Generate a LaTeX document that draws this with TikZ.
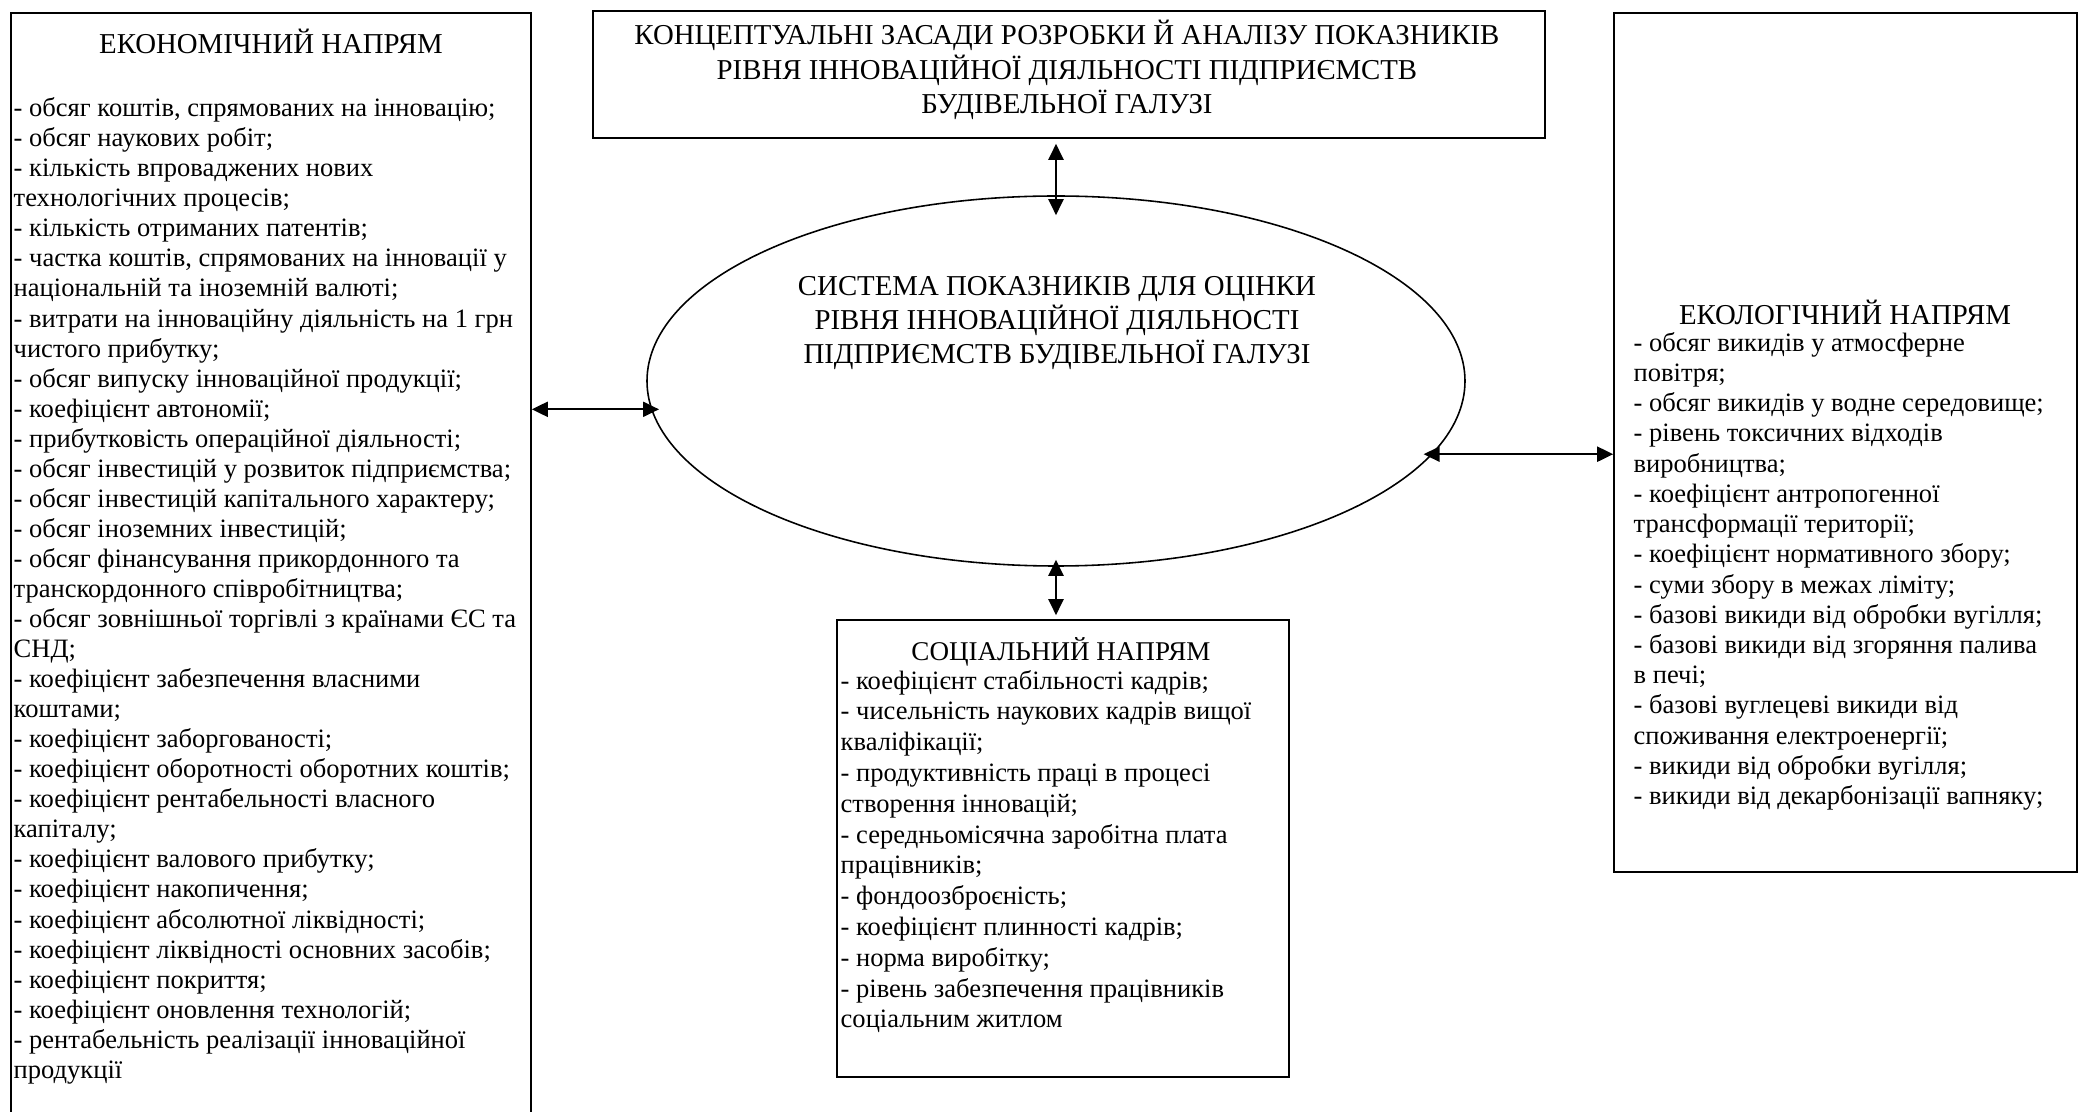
\documentclass[tikz,border=0pt]{standalone}
\usepackage{fontspec}
\setmainfont{Liberation Serif}
\usetikzlibrary{arrows.meta,shapes.geometric}

\begin{document}
\begin{tikzpicture}[
        box/.style = {draw = black, line width = 0.45pt, inner sep = 0pt},
        lst/.style = {align = left, inner sep = 0pt, anchor = north west, font = {\fontsize{7.55}{8.55}\selectfont}},
        head/.style = {inner sep = 0pt, font = {\fontsize{8.2}{9.8}\selectfont}},
        arr/.style = {{Triangle[width = 0.15cm, length = 0.16cm]}-{Triangle[width = 0.15cm, length = 0.16cm]}, line width = 0.6pt}
    ]
        \fill[white] (0, 0) rectangle (20.8, -11.12);
        \useasboundingbox (0, 0) rectangle (20.8, -11.12);

        \node[box, minimum width = 5.2cm, minimum height = 11.17cm] (econ) at (2.71, -5.715) {};
        \node[box, minimum width = 9.52cm, minimum height = 1.27cm] (concept) at (10.69, -0.745) {};
        \node[box, ellipse, minimum width = 8.18cm, minimum height = 3.7cm] (sys) at (10.56, -3.81) {};
        \node[box, minimum width = 4.52cm, minimum height = 4.57cm] (soc) at (10.63, -8.485) {};
        \node[box, minimum width = 4.63cm, minimum height = 8.59cm] (eco) at (18.455, -4.425) {};

        \node[head, align = center] (conceptText) at (10.67, -0.70) {КОНЦЕПТУАЛЬНІ ЗАСАДИ РОЗРОБКИ Й АНАЛІЗУ ПОКАЗНИКІВ\\ РІВНЯ ІННОВАЦІЙНОЇ ДІЯЛЬНОСТІ ПІДПРИЄМСТВ\\ БУДІВЕЛЬНОЇ ГАЛУЗІ};
        \node[head, align = center] (sysText) at (10.57, -3.23) {СИСТЕМА ПОКАЗНИКІВ ДЛЯ ОЦІНКИ\\ РІВНЯ ІННОВАЦІЙНОЇ ДІЯЛЬНОСТІ\\ ПІДПРИЄМСТВ БУДІВЕЛЬНОЇ ГАЛУЗІ};

        \node[head, anchor = base] (econHead) at (2.71, -0.54) {ЕКОНОМІЧНИЙ НАПРЯМ};
        \node[lst] (econList) at (0.13, -0.97) {- обсяг коштів, спрямованих на інновацію;\\
            - обсяг наукових робіт;\\
            - кількість впроваджених нових\\
            технологічних процесів;\\
            - кількість отриманих патентів;\\
            - частка коштів, спрямованих на інновації у\\
            національній та іноземній валюті;\\
            - витрати на інноваційну діяльність на 1 грн\\
            чистого прибутку;\\
            - обсяг випуску інноваційної продукції;\\
            - коефіцієнт автономії;\\
            - прибутковість операційної діяльності;\\
            - обсяг інвестицій у розвиток підприємства;\\
            - обсяг інвестицій капітального характеру;\\
            - обсяг іноземних інвестицій;\\
            - обсяг фінансування прикордонного та\\
            транскордонного співробітництва;\\
            - обсяг зовнішньої торгівлі з країнами ЄС та\\
            СНД;\\
            - коефіцієнт забезпечення власними\\
            коштами;\\
            - коефіцієнт заборгованості;\\
            - коефіцієнт оборотності оборотних коштів;\\
            - коефіцієнт рентабельності власного\\
            капіталу;\\
            - коефіцієнт валового прибутку;\\
            - коефіцієнт накопичення;\\
            - коефіцієнт абсолютної ліквідності;\\
            - коефіцієнт ліквідності основних засобів;\\
            - коефіцієнт покриття;\\
            - коефіцієнт оновлення технологій;\\
            - рентабельність реалізації інноваційної\\
            продукції};

        \node[head, anchor = base, font = {\fontsize{7.7}{9}\selectfont}] (socHead) at (10.61, -6.61) {СОЦІАЛЬНИЙ НАПРЯМ};
        \node[lst, font = {\fontsize{7.55}{8.76}\selectfont}] (socList) at (8.40, -6.695) {- коефіцієнт стабільності кадрів;\\
            - чисельність наукових кадрів вищої\\
            кваліфікації;\\
            - продуктивність праці в процесі\\
            створення інновацій;\\
            - середньомісячна заробітна плата\\
            працівників;\\
            - фондоозброєність;\\
            - коефіцієнт плинності кадрів;\\
            - норма виробітку;\\
            - рівень забезпечення працівників\\
            соціальним житлом};

        \node[head, anchor = base] (ecoHead) at (18.45, -3.25) {ЕКОЛОГІЧНИЙ НАПРЯМ};
        \node[lst, font = {\fontsize{7.55}{8.6}\selectfont}] (ecoList) at (16.33, -3.315) {- обсяг викидів у атмосферне\\
            повітря;\\
            - обсяг викидів у водне середовище;\\
            - рівень токсичних відходів\\
            виробництва;\\
            - коефіцієнт антропогенної\\
            трансформації території;\\
            - коефіцієнт нормативного збору;\\
            - суми збору в межах ліміту;\\
            - базові викиди від обробки вугілля;\\
            - базові викиди від згоряння палива\\
            в печі;\\
            - базові вуглецеві викиди від\\
            споживання електроенергії;\\
            - викиди від обробки вугілля;\\
            - викиди від декарбонізації вапняку;};

        \draw[arr, shorten >= -0.08cm] (econ.east |- sys.184) -- (sys.184);
        \draw[arr, shorten <= -0.09cm] (sys.349) -- (eco.west |- sys.349);
        \draw[arr, shorten <= 0.05cm, shorten >= -0.2cm] (sys.north |- concept.south) -- (sys.north);
        \draw[arr, shorten <= -0.07cm, shorten >= 0.04cm] (sys.south) -- (sys.south |- soc.north);
    \end{tikzpicture}
\end{document}
